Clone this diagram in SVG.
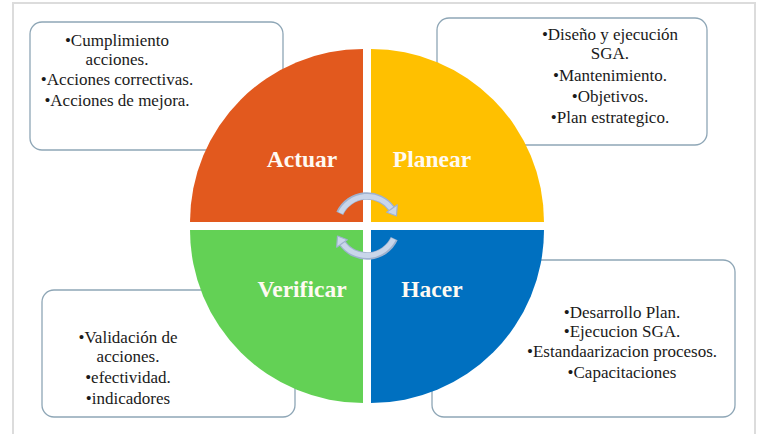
<svg xmlns="http://www.w3.org/2000/svg" width="760" height="434" viewBox="0 0 760 434">
<style>
.box{fill:#ffffff;stroke:#8ea6b6;stroke-width:1.3}
.bt{font-family:"Liberation Serif","Times New Roman",serif;font-size:17px;fill:#1a1a1a;text-anchor:middle}
.lbl{font-family:"Liberation Serif","Times New Roman",serif;font-size:23.5px;font-weight:bold;fill:#fffaf2;text-anchor:middle}
.arc{fill:none;stroke:#9fb2cf;stroke-width:7.5}
.arcin{fill:none;stroke:#c9d6ea;stroke-width:5}
.head{fill:#c9d6ea;stroke:#9fb2cf;stroke-width:1.2;stroke-linejoin:round}
</style>
<rect x="0" y="0" width="760" height="434" fill="#ffffff"/>
<path d="M13 436 V3 H755 V436" fill="none" stroke="#dcdcdc" stroke-width="2"/>
<g id="box-actuar">
<rect class="box" x="30" y="22" width="253" height="128" rx="12"/>
<text class="bt" x="117" y="46">•Cumplimiento</text>
<text class="bt" x="117" y="65">acciones.</text>
<text class="bt" x="117" y="85">•Acciones correctivas.</text>
<text class="bt" x="117" y="106">•Acciones de mejora.</text>
</g>
<g id="box-planear">
<rect class="box" x="437" y="18" width="270" height="127" rx="12"/>
<text class="bt" x="610" y="40">•Diseño y ejecución</text>
<text class="bt" x="610" y="59">SGA.</text>
<text class="bt" x="610" y="81">•Mantenimiento.</text>
<text class="bt" x="610" y="102">•Objetivos.</text>
<text class="bt" x="610" y="123">•Plan estrategico.</text>
</g>
<g id="box-verificar">
<rect class="box" x="42" y="290" width="253" height="127" rx="12"/>
<text class="bt" x="128" y="343">•Validación de</text>
<text class="bt" x="128" y="362">acciones.</text>
<text class="bt" x="128" y="383">•efectividad.</text>
<text class="bt" x="128" y="404">•indicadores</text>
</g>
<g id="box-hacer">
<rect class="box" x="432" y="260" width="303" height="157" rx="12"/>
<text class="bt" x="622" y="318">•Desarrollo Plan.</text>
<text class="bt" x="622" y="337">•Ejecucion SGA.</text>
<text class="bt" x="622" y="357">•Estandaarizacion procesos.</text>
<text class="bt" x="622" y="378">•Capacitaciones</text>
</g>
<g id="actuar">
<path d="M363 222 L190 222 A173 173 0 0 1 363 49 Z" fill="#e2591e"/>
<text class="lbl" x="302" y="167">Actuar</text>
</g>
<g id="planear">
<path d="M371 222 L371 49 A173 173 0 0 1 544 222 Z" fill="#ffc000"/>
<text class="lbl" x="432" y="167">Planear</text>
</g>
<g id="hacer">
<path d="M371 230 L544 230 A173 173 0 0 1 371 403 Z" fill="#0070c0"/>
<text class="lbl" x="432" y="297">Hacer</text>
</g>
<g id="verificar">
<path d="M363 230 L363 403 A173 173 0 0 1 190 230 Z" fill="#63d155"/>
<text class="lbl" x="302" y="297">Verificar</text>
</g>
<g id="connectors">
<path class="arc" d="M339.8 213.3 A30 30 0 0 1 391.6 208.8"/>
<path class="arcin" d="M340.5 213 A30 30 0 0 1 391.6 208.8"/>
<polygon class="head" points="386.7,212.2 397.3,204.8 396.5,216"/>
<path class="arc" d="M394.2 238.7 A30 30 0 0 1 342.4 243.2"/>
<path class="arcin" d="M393.5 239 A30 30 0 0 1 342.4 243.2"/>
<polygon class="head" points="347.3,239.8 336.7,247.2 337.5,236"/>
</g>
</svg>
